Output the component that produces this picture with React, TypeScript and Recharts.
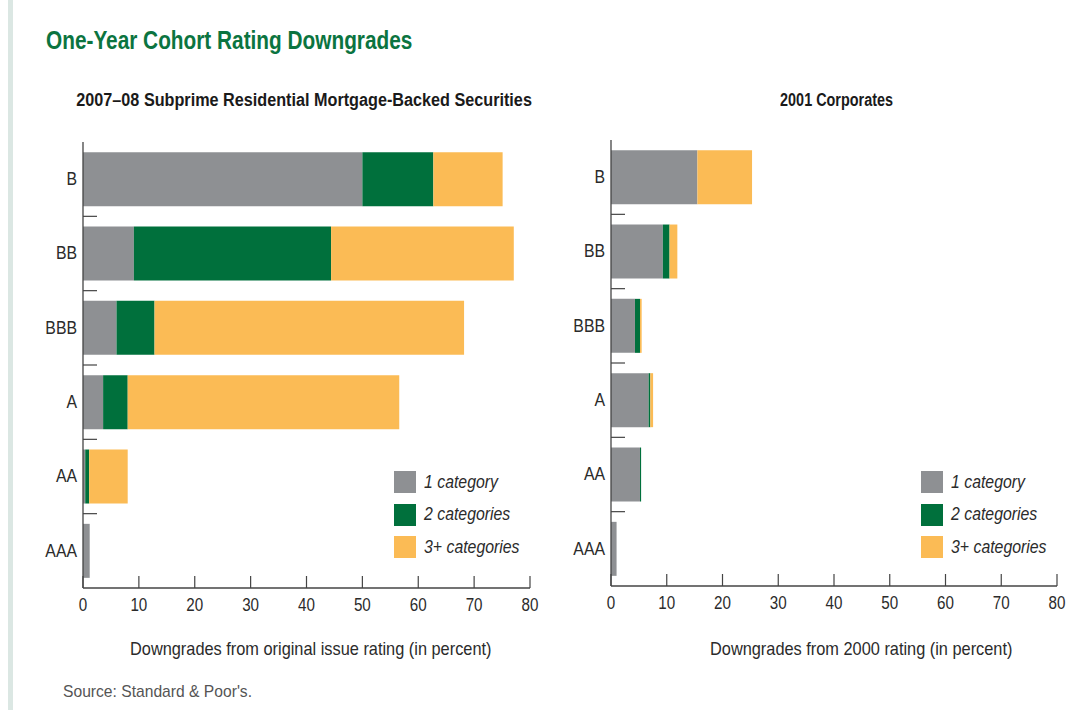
import React from 'react';
import { BarChart, Bar, XAxis, YAxis, Legend } from 'recharts';

// ---------- data ----------
const ratings = ['B', 'BB', 'BBB', 'A', 'AA', 'AAA'];
const xTicks = [0, 10, 20, 30, 40, 50, 60, 70, 80];
const seriesNames = ['1 category', '2 categories', '3+ categories'];

// 2007–08 Subprime RMBS (percent)
const rmbsOneCategory = [50.0, 9.1, 6.0, 3.6, 0.4, 1.2];
const rmbsTwoCategories = [12.7, 35.3, 6.8, 4.4, 0.7, 0];
const rmbsThreePlusCategories = [12.4, 32.7, 55.4, 48.6, 6.9, 0];

// 2001 Corporates (percent)
const corpOneCategory = [15.5, 9.3, 4.3, 6.75, 5.2, 1.0];
const corpTwoCategories = [0, 1.2, 0.9, 0.3, 0.2, 0];
const corpThreePlusCategories = [9.8, 1.4, 0.3, 0.5, 0, 0];

// ---------- styles ----------
const COLORS = ['#8e9093', '#00703c', '#fbbb55'];
const FONT = "'Liberation Sans', Arial, Helvetica, sans-serif";
const TEXT = '#2b2b2b';
const SX = 0.85;
const CHART_H = 490;
const MARGIN_TOP = 12;
const MARGIN_BOTTOM = 2;
const X_AXIS_H = 30;
const PLOT_H = CHART_H - MARGIN_TOP - MARGIN_BOTTOM - X_AXIS_H;
const BAND = PLOT_H / ratings.length;

const buildRows = (one: number[], two: number[], three: number[]) =>
  ratings.map((r, i) => ({ rating: r, one: one[i], two: two[i], three: three[i] }));

const rmbsRows = buildRows(rmbsOneCategory, rmbsTwoCategories, rmbsThreePlusCategories);
const corpRows = buildRows(corpOneCategory, corpTwoCategories, corpThreePlusCategories);

const XTick = (props: any) => {
  const { x, y, payload } = props;
  return (
    <g>
      <line x1={x} x2={x} y1={y} y2={y - 12} stroke="#444" strokeWidth={1.2} />
      <text transform={`translate(${x} ${y + 23}) scale(0.8 1)`} textAnchor="middle" fontFamily={FONT} fontSize={19} fill={TEXT}>
        {payload.value}
      </text>
    </g>
  );
};

const YTick = (props: any) => {
  const { x, y, payload, index } = props;
  return (
    <g>
      <text transform={`translate(${x - 6} ${y}) scale(0.88 1)`} textAnchor="end" dominantBaseline="central" fontFamily={FONT} fontSize={18} fill={TEXT}>
        {payload.value}
      </text>
      {index < ratings.length - 1 && (
        <line x1={x} x2={x + 14} y1={y + BAND / 2} y2={y + BAND / 2} stroke="#444" strokeWidth={1.2} />
      )}
    </g>
  );
};

const Squeeze = ({ children, scale = SX, origin = 'left center', style }: any) => (
  <span style={{ display: 'inline-block', transform: `scaleX(${scale})`, transformOrigin: origin, whiteSpace: 'nowrap', ...style }}>
    {children}
  </span>
);

const LegendContent = (props: any) => {
  const items = props.payload && props.payload.length ? props.payload : seriesNames.map((n, i) => ({ value: n, color: COLORS[i] }));
  return (
    <div>
      {items.map((it: any, i: number) => (
        <div key={i} style={{ display: 'flex', alignItems: 'center', height: 32.5 }}>
          <div style={{ width: 22, height: 22, background: it.color, flex: 'none' }} />
          <Squeeze scale={0.88} style={{ marginLeft: 8, fontFamily: FONT, fontStyle: 'italic', fontSize: 18, color: TEXT }}>
            {it.value}
          </Squeeze>
        </div>
      ))}
    </div>
  );
};

function Panel({ data, left, top, width, marginRight, legendLeft, legendTop }: any) {
  return (
    <div style={{ position: 'absolute', left, top }}>
      <BarChart
        width={width}
        height={CHART_H}
        data={data}
        layout="vertical"
        margin={{ top: MARGIN_TOP, right: marginRight, bottom: MARGIN_BOTTOM, left: 0 }}
        barCategoryGap="13.7%"
      >
        <XAxis
          xAxisId="top"
          orientation="top"
          type="number"
          domain={[0, 80]}
          height={0}
          tick={false}
          tickLine={false}
          axisLine={{ stroke: '#6e6e6e', strokeWidth: 1.5 }}
        />
        <XAxis
          type="number"
          domain={[0, 80]}
          ticks={xTicks}
          interval={0}
          height={X_AXIS_H}
          tick={XTick}
          tickLine={false}
          tickSize={0}
          tickMargin={0}
          axisLine={{ stroke: '#444', strokeWidth: 1.3 }}
        />
        <YAxis
          type="category"
          dataKey="rating"
          width={83}
          interval={0}
          tick={YTick}
          tickLine={false}
          tickSize={0}
          tickMargin={0}
          axisLine={{ stroke: '#444', strokeWidth: 1.3 }}
        />
        <Bar dataKey="one" name={seriesNames[0]} stackId="s" fill={COLORS[0]} isAnimationActive={false} />
        <Bar dataKey="two" name={seriesNames[1]} stackId="s" fill={COLORS[1]} isAnimationActive={false} />
        <Bar dataKey="three" name={seriesNames[2]} stackId="s" fill={COLORS[2]} isAnimationActive={false} />
        <Legend
          layout="vertical"
          verticalAlign="middle"
          align="center"
          content={LegendContent}
          wrapperStyle={{ left: legendLeft, top: legendTop, width: 170 }}
        />
      </BarChart>
    </div>
  );
}

export default function App() {
  return (
    <div style={{ position: 'absolute', left: 0, top: 0, width: 1070, height: 710, overflow: 'hidden', background: '#fff' }}>
      <div style={{ position: 'absolute', left: 8, top: 0, width: 5, height: 710, background: '#dbe7e3' }} />
      <div style={{ position: 'absolute', left: 46, top: 25, fontFamily: FONT, fontWeight: 'bold', fontSize: 26, color: '#0b7440' }}>
        <Squeeze scale={0.8}>One-Year Cohort Rating Downgrades</Squeeze>
      </div>
      <div style={{ position: 'absolute', left: 4, width: 600, top: 90, textAlign: 'center', fontFamily: FONT, fontWeight: 'bold', fontSize: 18, color: '#1a1a1a' }}>
        <Squeeze scale={0.9} origin="center center">2007–08 Subprime Residential Mortgage-Backed Securities</Squeeze>
      </div>
      <div style={{ position: 'absolute', left: 537, width: 600, top: 90, textAlign: 'center', fontFamily: FONT, fontWeight: 'bold', fontSize: 18, color: '#1a1a1a' }}>
        <Squeeze scale={0.8} origin="center center">2001 Corporates</Squeeze>
      </div>
      <Panel data={rmbsRows} left={0} top={130} width={560} marginRight={30} legendLeft={394} legendTop={336} />
      <Panel data={corpRows} left={528} top={128} width={540} marginRight={11} legendLeft={393} legendTop={338} />
      <div style={{ position: 'absolute', left: 130, top: 638, fontFamily: FONT, fontSize: 19, color: TEXT }}>
        <Squeeze scale={0.86}>Downgrades from original issue rating (in percent)</Squeeze>
      </div>
      <div style={{ position: 'absolute', left: 710, top: 638, fontFamily: FONT, fontSize: 19, color: TEXT }}>
        <Squeeze scale={0.86}>Downgrades from 2000 rating (in percent)</Squeeze>
      </div>
      <div style={{ position: 'absolute', left: 63, top: 682, fontFamily: FONT, fontSize: 17, color: '#555' }}>
        <Squeeze scale={0.92}>Source: Standard &amp; Poor's.</Squeeze>
      </div>
    </div>
  );
}
